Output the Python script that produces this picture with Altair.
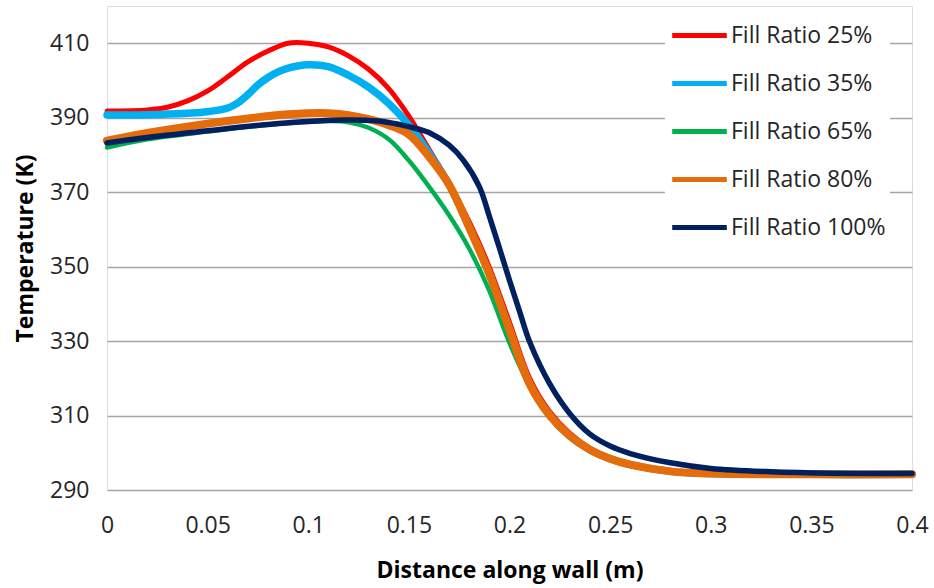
import altair as alt
import pandas as pd

# Series labels, colours and line weights
series_names = [
    "Fill Ratio 25%",
    "Fill Ratio 35%",
    "Fill Ratio 65%",
    "Fill Ratio 80%",
    "Fill Ratio 100%",
]
series_colors = ["#ff0000", "#00b0f0", "#00b050", "#e46c0a", "#002060"]
line_widths = [5, 7.5, 4.5, 8, 5.5]

# Wall temperature profiles: distance along wall (m) and temperature (K)
x_25 = [0, 0.02, 0.03, 0.04, 0.05, 0.06, 0.07, 0.08, 0.09, 0.1, 0.11,
        0.12, 0.13, 0.14, 0.15, 0.16, 0.17, 0.18, 0.19, 0.2, 0.21, 0.22, 0.23,
        0.24, 0.25, 0.26, 0.28, 0.3, 0.35, 0.4]
t_25 = [391.8, 392.1, 392.8, 394.5, 397.2, 401.0, 405.0, 407.9, 410.0, 410.0,
        409.0, 406.6, 403.0, 397.8, 390.4, 381.5, 372.5, 362.0, 349.8,
        335.0, 320.0, 311.0, 305.2, 301.2, 298.6, 296.9, 295.1, 294.5, 294.3,
        294.3]

x_35 = [0, 0.02, 0.04, 0.05, 0.06, 0.065, 0.07, 0.075, 0.08, 0.085, 0.09,
        0.1, 0.11, 0.12, 0.13, 0.14, 0.15, 0.16, 0.17, 0.18, 0.19, 0.2, 0.21,
        0.22, 0.23, 0.24, 0.25, 0.26, 0.28, 0.3, 0.35, 0.4]
t_35 = [390.7, 390.8, 391.2, 391.6, 392.6, 394.0, 396.2, 398.8, 400.8, 402.3,
        403.3, 404.2, 403.7, 401.4, 398.2, 393.8, 388.0, 380.5, 372.0, 360.5,
        348.0, 333.0, 318.5, 310.0, 304.5, 300.8, 298.4, 296.8, 295.0, 294.4,
        294.2, 294.2]

x_65 = [0, 0.02, 0.05, 0.08, 0.1, 0.11, 0.12, 0.13, 0.14, 0.15, 0.16, 0.17,
        0.18, 0.19, 0.2, 0.21, 0.22, 0.23, 0.24, 0.25, 0.26, 0.28, 0.3, 0.35,
        0.4]
t_65 = [382.0, 384.2, 386.3, 388.1, 388.9, 389.1, 388.8, 387.3, 384.2, 378.5,
        371.5, 363.8, 354.8, 343.5, 329.5, 318.0, 310.0, 304.5, 300.5, 298.0,
        296.5, 295.0, 294.5, 294.2, 294.2]

x_80 = [0, 0.02, 0.05, 0.07, 0.09, 0.1, 0.11, 0.12, 0.13, 0.14, 0.15, 0.16,
        0.17, 0.18, 0.19, 0.2, 0.21, 0.22, 0.23, 0.24, 0.25, 0.26, 0.28, 0.3,
        0.35, 0.4]
t_80 = [383.8, 385.9, 388.4, 389.8, 390.9, 391.2, 391.2, 390.7, 389.6, 388.0,
        385.5, 379.5, 372.0, 360.5, 348.0, 333.0, 318.5, 310.0, 304.5, 300.8,
        298.4, 296.8, 295.0, 294.4, 294.2, 294.2]

x_100 = [0, 0.02, 0.05, 0.08, 0.1, 0.12, 0.135, 0.145, 0.155, 0.16, 0.17,
         0.177, 0.185, 0.19, 0.195, 0.2, 0.205, 0.21, 0.22, 0.23, 0.24, 0.25,
         0.26, 0.28, 0.3, 0.33, 0.36, 0.4]
t_100 = [383.2, 384.7, 386.5, 388.2, 389.0, 389.4, 389.1, 388.2, 386.9, 386.0,
         382.6, 378.6, 371.5, 363.5, 355.0, 346.3, 338.0, 329.8, 318.5, 310.5,
         305.0, 301.8, 299.8, 297.3, 295.8, 294.9, 294.5, 294.4]

x_ticks = [0, 0.05, 0.1, 0.15, 0.2, 0.25, 0.3, 0.35, 0.4]
y_ticks = [290, 310, 330, 350, 370, 390, 410]

xs_all = [x_25, x_35, x_65, x_80, x_100]
ts_all = [t_25, t_35, t_65, t_80, t_100]
frames = [
    pd.DataFrame({"series": name, "distance": xs, "temperature": ts})
    for name, xs, ts in zip(series_names, xs_all, ts_all)
]
data = pd.concat(frames, ignore_index=True)

FONT = "Open Sans"

x_enc = alt.X(
    "distance:Q",
    scale=alt.Scale(domain=[0, 0.4], nice=False, zero=False),
    axis=alt.Axis(
        title="Distance along wall (m)",
        values=x_ticks,
        format=".2~f",
        grid=False,
        ticks=False,
        domain=False,
        labelFlush=False,
        labelPadding=24,
        labelFont=FONT,
        labelFontSize=23,
        labelColor="#262626",
        titleFont=FONT,
        titleFontSize=23,
        titleFontWeight="bold",
        titleColor="#000000",
        titleX=402.5,
        titleY=80,
        titleAlign="center",
        titleBaseline="middle",
    ),
)

y_enc = alt.Y(
    "temperature:Q",
    scale=alt.Scale(domain=[290, 420], nice=False, zero=False),
    axis=alt.Axis(
        title="Temperature (K)",
        values=y_ticks,
        grid=True,
        gridColor="#a6a6a6",
        gridWidth=1.3,
        ticks=False,
        domain=False,
        labelFlush=False,
        labelPadding=18,
        labelFont=FONT,
        labelFontSize=23,
        labelColor="#262626",
        titleFont=FONT,
        titleFontSize=23,
        titleFontWeight="bold",
        titleColor="#000000",
        titleX=-82,
        titleY=242,
        titleAngle=-90,
        titleAlign="center",
        titleBaseline="middle",
    ),
)

color_enc = alt.Color(
    "series:N",
    scale=alt.Scale(domain=series_names, range=series_colors),
    legend=alt.Legend(
        title=None,
        orient="none",
        legendX=558,
        legendY=2,
        fillColor="white",
        padding=4,
        symbolType="M-1.3,0H1.3",
        symbolSize=1764,
        symbolStrokeWidth=5,
        symbolOffset=7,
        labelOffset=8,
        rowPadding=12,
        labelFont=FONT,
        labelFontSize=23,
        labelColor="#262626",
        labelLimit=300,
    ),
)

# One layer per series so later series are drawn on top of earlier ones
layers = []
for name, width in zip(series_names, line_widths):
    layers.append(
        alt.Chart(data)
        .transform_filter(alt.datum.series == name)
        .mark_line(strokeWidth=width, strokeCap="round", strokeJoin="round",
                   interpolate="catmull-rom")
        .encode(x=x_enc, y=y_enc, color=color_enc)
    )

chart = (
    alt.layer(*layers)
    .properties(
        width=805,
        height=484,
        autosize=alt.AutoSizeParams(type="none"),
        padding={"left": 107, "top": 6, "right": 22, "bottom": 98},
    )
    .configure_view(stroke="#000000", strokeWidth=2)
    .configure(background="white")
)

chart.save("out.html", embed_options={"renderer": "svg", "actions": False})
